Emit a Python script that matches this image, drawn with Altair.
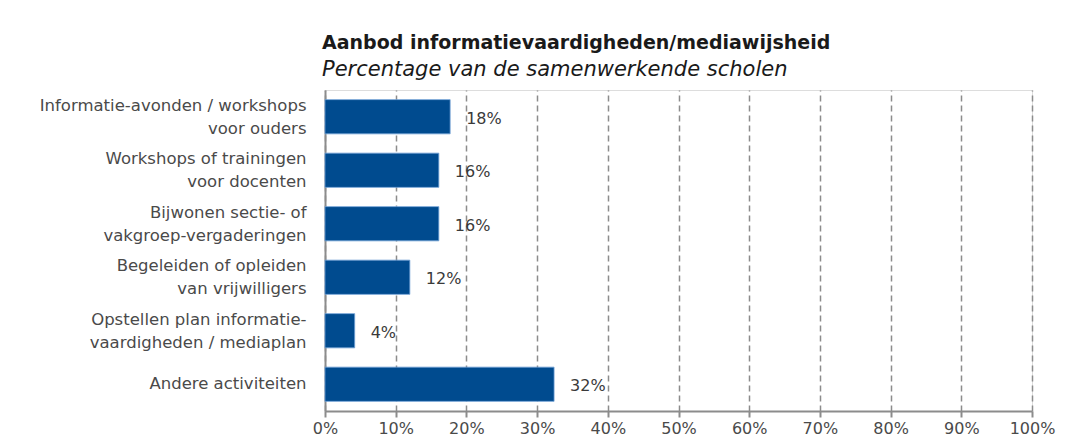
import altair as alt
import pandas as pd

categories = [
    "Informatie-avonden / workshops|voor ouders",
    "Workshops of trainingen|voor docenten",
    "Bijwonen sectie- of|vakgroep-vergaderingen",
    "Begeleiden of opleiden|van vrijwilligers",
    "Opstellen plan informatie-|vaardigheden / mediaplan",
    "Andere activiteiten",
]
values = [17.7, 16.1, 16.1, 12.0, 4.2, 32.4]
labels = ["18%", "16%", "16%", "12%", "4%", "32%"]

df = pd.DataFrame({"cat": categories, "val": values, "lab": labels})

FONT = "DejaVu Sans"

y_enc = alt.Y(
    "cat:N",
    sort=categories,
    title=None,
    scale=alt.Scale(paddingInner=0.36, paddingOuter=0.18),
    axis=alt.Axis(
        labelExpr="split(datum.label, '|')",
        labelFontSize=16.5,
        labelColor="#4a4a4a",
        labelFont=FONT,
        labelLineHeight=23,
        labelPadding=19,
        labelOffset={
            "condition": {"test": "indexof(datum.value, '|') >= 0", "value": -11},
            "value": 0,
        },
        ticks=False,
        domainColor="#8c8c8c",
        domainWidth=2,
        labelLimit=400,
    ),
)

x_enc = alt.X(
    "val:Q",
    title=None,
    scale=alt.Scale(domain=[0, 100], nice=False),
    axis=alt.Axis(
        values=[0, 10, 20, 30, 40, 50, 60, 70, 80, 90, 100],
        labelExpr="datum.value + '%'",
        labelFontSize=16,
        labelColor="#4a4a4a",
        labelFont=FONT,
        labelPadding=3,
        labelFlush=False,
        labelBound=False,
        grid=True,
        gridDash=[6, 4],
        gridColor="#8c8c8c",
        gridWidth=1.5,
        domainColor="#8c8c8c",
        domainWidth=2,
        tickColor="#8c8c8c",
        tickSize=6,
        tickWidth=2,
    ),
)

bars = alt.Chart(df).mark_bar(
    color="#004b8f", stroke="#6f9fd6", strokeWidth=0.8
).encode(x=x_enc, y=y_enc)

text = alt.Chart(df).mark_text(
    align="left", baseline="middle", dx=16, dy=2, fontSize=16, font=FONT, color="#3a3a3a"
).encode(x="val:Q", y=alt.Y("cat:N", sort=categories), text="lab:N")

chart = (
    (bars + text)
    .properties(
        width=707,
        height=321,
        autosize=alt.AutoSizeParams(type="none"),
        padding={"left": 317, "top": 82, "right": 40, "bottom": 25},
        title=alt.TitleParams(
            text="Aanbod informatievaardigheden/mediawijsheid",
            subtitle="Percentage van de samenwerkende scholen",
            anchor="start",
            frame="group",
            font=FONT,
            fontSize=19,
            fontWeight="bold",
            color="#1a1a1a",
            subtitleFont=FONT,
            subtitleFontSize=21,
            subtitleFontStyle="italic",
            subtitleColor="#1a1a1a",
            subtitlePadding=6,
            offset=10,
            dx=-3,
        ),
    )
    .configure_view(stroke=None)
    .configure(background="white")
)

chart.save("out.html", embed_options={"renderer": "svg", "actions": False})
